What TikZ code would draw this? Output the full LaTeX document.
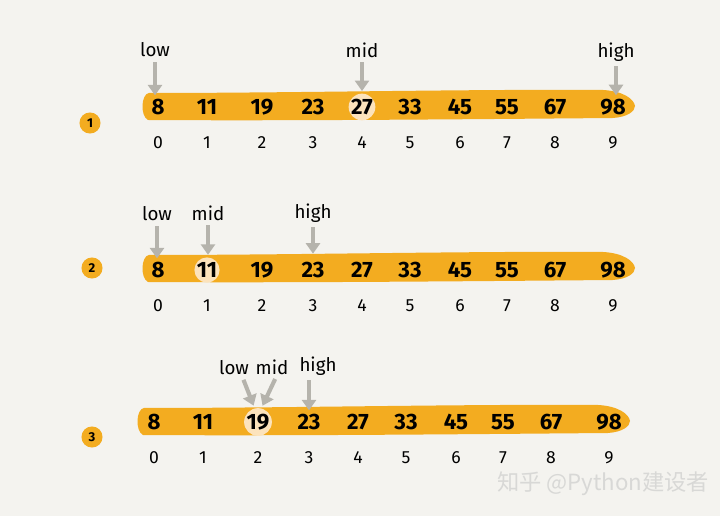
\documentclass[tikz,border=0pt]{standalone}
\usepackage{fontspec}
\setmainfont{Fira Sans}
\newfontfamily\cjk{Noto Sans CJK SC}
\usetikzlibrary{arrows.meta, positioning}
\definecolor{paper}{HTML}{F4F3EF}
\definecolor{barc}{HTML}{F3AC20}
\definecolor{peach}{HTML}{FCE3BC}
\definecolor{pointer}{HTML}{B5B3AC}
\definecolor{mark}{HTML}{D8D8D6}

\begin{document}
\begin{tikzpicture}[x=0.03cm, y=-0.03cm]
    \tikzstyle{num}=[inner sep=1pt, font=\fontsize{19}{19}\selectfont\bfseries]
    \tikzstyle{hl num}=[num, circle, fill=peach, minimum size=21pt, inner sep=0pt]
    \tikzstyle{idx}=[inner sep=1pt, font=\fontsize{15}{15}\selectfont]
    \tikzstyle{tag}=[circle, fill=barc, minimum size=18pt, inner sep=0pt, font=\fontsize{11}{11}\selectfont\bfseries]
    \tikzstyle{ptr label}=[inner sep=1pt, font=\fontsize{16}{16}\selectfont]
    \tikzstyle{ptr}=[draw=pointer, line width=3.5pt, shorten <=3pt, shorten >=2pt, -{Triangle[width=12pt,length=9pt]}]

    \fill[paper] (0,0) rectangle (720,516);
    \useasboundingbox (0,0) rectangle (720,516);

    % the three arrays
    \foreach \dx/\y in {143/106, 143/268, 138/421}{
        \fill[barc, shift={(\dx,\y)}] (6,-13) .. controls (-2,-12) and (-3,10) .. (5,14)
            .. controls (150,15) and (350,13) .. (470,12)
            .. controls (485,11) and (492,5) .. (492,0)
            .. controls (491,-7) and (480,-15) .. (460,-16)
            .. controls (330,-17) and (150,-13) .. (6,-13) -- cycle;
    }

    \foreach \r/\dx/\y/\h in {1/0/107/4, 2/0/270/1, 3/-4/422/2}{
        \foreach \v/\x [count=\i from 0] in {8/158, 11/207, 19/262, 23/313, 27/362, 33/410, 45/460, 55/507, 67/555, 98/613}{
            \pgfmathsetmacro\xx{\x+\dx}
            \ifnum\i=\h \def\sty{hl num}\else\def\sty{num}\fi
            \node[\sty] (N-\r-\i) at (\xx,\y) {\v};
            \node[idx] (X-\r-\i) at (\xx,\y+36) {\i};
        }
    }

    \node[tag] (T-1) at (90,123) {1};
    \node[tag] (T-2) at (92,268) {2};
    \node[tag] (T-3) at (92,437) {3};

    % step 1
    \node[ptr label] (low-1) at (155,50) {low};
    \node[ptr label] (mid-1) at (362,50) {mid};
    \node[ptr label] (high-1) at (616,52) {high};
    \draw[ptr] (low-1.south) -- (low-1.south |- N-1-0.north);
    \draw[ptr] (mid-1.south) -- (mid-1.south |- N-1-4.north);
    \draw[ptr] (high-1.south) -- (high-1.south |- N-1-9.north);

    % step 2
    \node[ptr label] (low-2) at (157,214) {low};
    \node[ptr label] (mid-2) at (208,213) {mid};
    \node[ptr label] (high-2) at (313,213) {high};
    \draw[ptr] (low-2.south) -- (low-2.south |- N-2-0.north);
    \draw[ptr] (mid-2.south) -- (mid-2.south |- N-2-1.north);
    \draw[ptr, shorten >=6pt] (high-2.south) -- (high-2.south |- N-2-3.north);

    % step 3
    \node[ptr label] (low-3) at (234,368) {low};
    \node[ptr label] (mid-3) at (272,367) {mid};
    \node[ptr label] (high-3) at (318,366) {high};
    \draw[ptr] ([xshift=7pt]low-3.south) -- ([xshift=-3pt]N-3-2.north);
    \draw[ptr] ([xshift=4pt]mid-3.south) -- ([xshift=3pt]N-3-2.north);
    \draw[ptr] (N-3-3.north |- high-3.south) -- (N-3-3.north);

    \node[text=mark, inner sep=0pt, font=\cjk\fontsize{19}{19}\selectfont] (wm) at (603,484) {知乎 @Python建设者};
\end{tikzpicture}
\end{document}
